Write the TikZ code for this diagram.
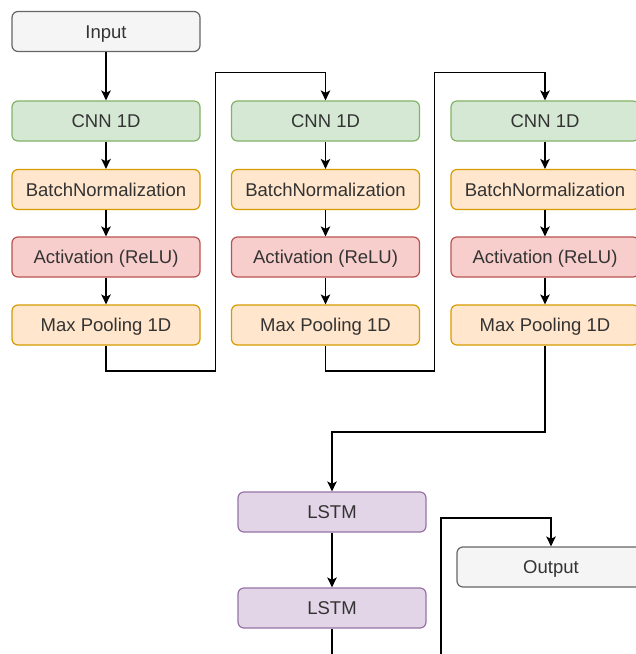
\documentclass[tikz,border=0pt]{standalone}
\usepackage{fontspec}
\setmainfont{Liberation Sans}
\usetikzlibrary{arrows.meta}

\definecolor{txt}{HTML}{333333}
\definecolor{cnnfill}{HTML}{D5E8D4}\definecolor{cnnline}{HTML}{82B366}
\definecolor{bnfill}{HTML}{FFE6CC}\definecolor{bnline}{HTML}{D79B00}
\definecolor{actfill}{HTML}{F8CECC}\definecolor{actline}{HTML}{B85450}
\definecolor{lstmfill}{HTML}{E1D5E7}\definecolor{lstmline}{HTML}{9673A6}
\definecolor{iofill}{HTML}{F5F5F5}\definecolor{ioline}{HTML}{666666}

\tikzset{
  block/.style={draw, line width=1.2pt, rounded corners=6pt,
    minimum width=188pt, minimum height=40pt, inner sep=0pt,
    text height=13.3pt, text depth=0pt,
    text=txt, font=\fontsize{18.5}{22}\selectfont},
  iobox/.style={block, fill=iofill, draw=ioline},
  cnnbox/.style={block, fill=cnnfill, draw=cnnline},
  bnbox/.style={block, fill=bnfill, draw=bnline},
  actbox/.style={block, fill=actfill, draw=actline},
  lstmbox/.style={block, fill=lstmfill, draw=lstmline},
  wire/.style={line width=1.3pt, black},
  link/.style={wire, -{Stealth[length=10pt,width=9.5pt,inset=2.5pt]}}
}

\begin{document}
\begin{tikzpicture}[x=1pt,y=-1pt]
  \clip (0,0) rectangle (636,654);
  \fill[white] (0,0) rectangle (636,654);

  \node[iobox] (in) at (106,31.5) {Input};

  % three convolution stages
  \node[cnnbox] (cnnA) at (106,121) {CNN 1D};
  \node[bnbox]  (bnA)  at (106,189.5) {BatchNormalization};
  \node[actbox] (actA) at (106,257) {Activation (ReLU)};
  \node[bnbox]  (poolA) at (106,325) {Max Pooling 1D};

  \node[cnnbox] (cnnB) at (325.5,121) {CNN 1D};
  \node[bnbox]  (bnB)  at (325.5,189.5) {BatchNormalization};
  \node[actbox] (actB) at (325.5,257) {Activation (ReLU)};
  \node[bnbox]  (poolB) at (325.5,325) {Max Pooling 1D};

  \node[cnnbox] (cnnC) at (545,121) {CNN 1D};
  \node[bnbox]  (bnC)  at (545,189.5) {BatchNormalization};
  \node[actbox] (actC) at (545,257) {Activation (ReLU)};
  \node[bnbox]  (poolC) at (545,325) {Max Pooling 1D};

  % recurrent part
  \node[lstmbox] (lstmA) at (332,512) {LSTM};
  \node[lstmbox] (lstmB) at (332,608) {LSTM};
  \node[iobox] (out) at (551,567) {Output};

  \draw[link] (in) -- (cnnA);
  \draw[link] (cnnA) -- (bnA);
  \draw[link] (bnA) -- (actA);
  \draw[link] (actA) -- (poolA);
  \draw[link] (cnnB) -- (bnB);
  \draw[link] (bnB) -- (actB);
  \draw[link] (actB) -- (poolB);
  \draw[link] (cnnC) -- (bnC);
  \draw[link] (bnC) -- (actC);
  \draw[link] (actC) -- (poolC);

  \coordinate (jA) at (215.5,371);
  \coordinate (tA) at (215.5,72.5);
  \draw[link] (poolA.south) |- (jA) -- (tA) -| (cnnB.north);
  \coordinate (jB) at (434.5,371);
  \coordinate (tB) at (434.5,72.5);
  \draw[link] (poolB.south) |- (jB) -- (tB) -| (cnnC.north);

  \coordinate (jC) at (545,432);
  \draw[link] (poolC.south) -- (jC) -| (lstmA.north);
  \draw[link] (lstmA) -- (lstmB);

  \coordinate (lstmFoot) at (332,660);
  \draw[wire] (lstmB.south) -- (lstmFoot);
  \coordinate (outFoot) at (441,660);
  \coordinate (outTop) at (441,518);
  \draw[link] (outFoot) -- (outTop) -| (out.north);
\end{tikzpicture}
\end{document}
